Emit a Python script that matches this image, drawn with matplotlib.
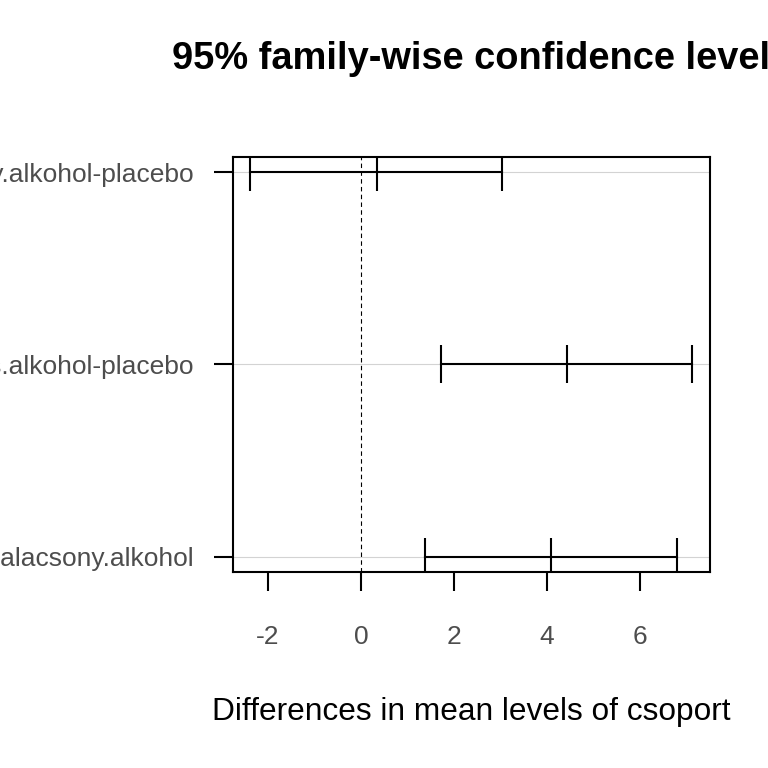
import matplotlib
matplotlib.use("Agg")
import matplotlib.pyplot as plt

plt.rcParams['font.family'] = ['Liberation Sans', 'DejaVu Sans']

# TukeyHSD comparisons, bottom to top
comparisons = ["magas.alkohol-alacsony.alkohol",
               "magas.alkohol-placebo",
               "alacsony.alkohol-placebo"]
diff = [4.09, 4.43, 0.34]
lwr = [1.38, 1.72, -2.39]
upr = [6.80, 7.12, 3.03]
xticks = [-2, 0, 2, 4, 6]

fig = plt.figure(figsize=(7.68, 7.68), dpi=100)
ax = fig.add_axes([0.3034, 0.2552, 0.6211, 0.5404])

ypos = list(range(1, len(comparisons) + 1))

for y in ypos:
    ax.axhline(y, color='#d3d3d3', lw=0.8, zorder=0)
ax.axvline(0, color='black', lw=0.8, ls=(0, (4, 3)), zorder=1)

for y, lo, m, hi in zip(ypos, lwr, diff, upr):
    ax.plot([lo, hi], [y, y], color='black', lw=1.5, zorder=2)
    ax.plot([lo, m, hi], [y, y, y], ls='none', marker='|', markersize=27,
            markeredgewidth=1.5, color='black', zorder=3)

ax.set_xlim(-2.75, 7.505)
ax.set_ylim(0.92, 3.08)
ax.set_xticks(xticks)
ax.set_xticklabels([str(t) for t in xticks])
ax.set_yticks(ypos)
ax.set_yticklabels(comparisons)

ax.tick_params(axis='both', direction='out', length=14, width=1.5,
               labelsize=19, colors='black', labelcolor='#4d4d4d')
ax.tick_params(axis='x', pad=24)
ax.tick_params(axis='y', pad=14)
for sp in ax.spines.values():
    sp.set_linewidth(1.5)

ax.set_xlabel("Differences in mean levels of csoport", fontsize=22.8, labelpad=35)
fig.text(0.614, 0.923, "95% family-wise confidence level", ha='center',
         va='center', fontsize=27.4, fontweight='bold')

fig.savefig("out.png", dpi=100)
